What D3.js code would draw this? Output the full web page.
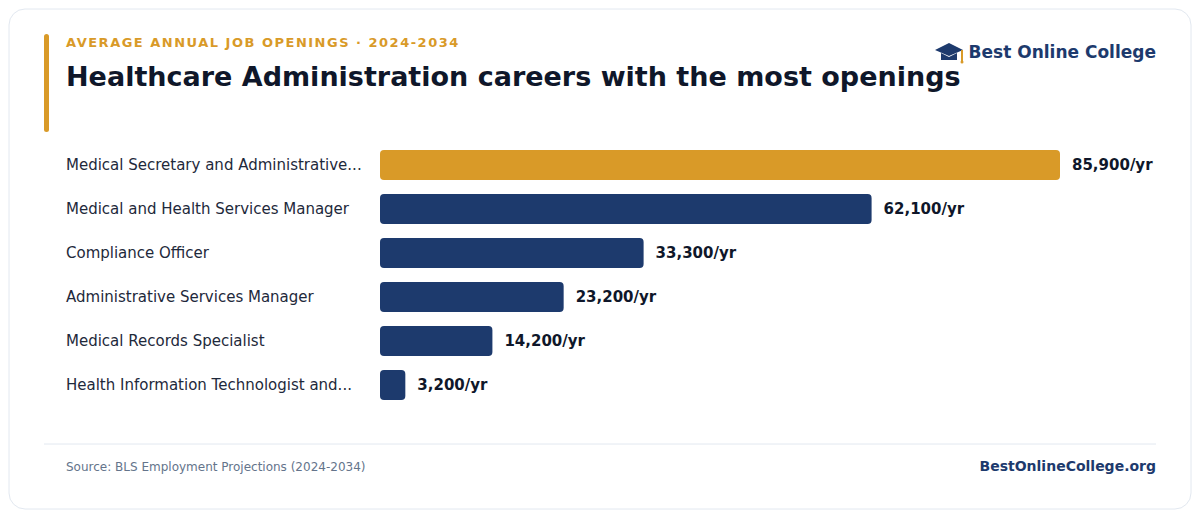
<!DOCTYPE html>
<html lang="en">
<head>
<meta charset="UTF-8">
<title>Healthcare Administration careers</title>
<script src="https://cdn.jsdelivr.net/npm/d3@7"></script>
<style>
  body { margin: 0; background: #ffffff; font-family: "DejaVu Sans", sans-serif; }
</style>
</head>
<body>
<script>

    var width = 1200;
    var height = 518;

    var categories = [
        'Medical Secretary and Administrative...',
        'Medical and Health Services Manager',
        'Compliance Officer',
        'Administrative Services Manager',
        'Medical Records Specialist',
        'Health Information Technologist and...'
    ];
    var openings = [85900, 62100, 33300, 23200, 14200, 3200];
    var valueLabels = ['85,900/yr', '62,100/yr', '33,300/yr', '23,200/yr', '14,200/yr', '3,200/yr'];

    var gold = '#d99a28';
    var navy = '#1d3a6d';

    var svg = d3.select('body')
        .append('svg')
        .attr('width', width)
        .attr('height', height)
        .style('display', 'block');

    // card
    svg.append('rect')
        .attr('x', 9).attr('y', 9)
        .attr('width', 1182).attr('height', 500)
        .attr('rx', 16)
        .attr('fill', '#ffffff')
        .attr('stroke', '#e2e8f0');

    // accent
    svg.append('rect')
        .attr('x', 44).attr('y', 34)
        .attr('width', 5).attr('height', 98)
        .attr('rx', 2.5)
        .attr('fill', gold);

    svg.append('text')
        .attr('x', 66).attr('y', 47)
        .attr('font-size', 13).attr('font-weight', 'bold')
        .attr('letter-spacing', 1.5)
        .attr('fill', gold)
        .text('AVERAGE ANNUAL JOB OPENINGS · 2024-2034');

    svg.append('text')
        .attr('x', 66).attr('y', 86)
        .attr('font-size', 27).attr('font-weight', 'bold')
        .attr('fill', '#0f172a')
        .text('Healthcare Administration careers with the most openings');

    // logo
    var logo = svg.append('g').attr('transform', 'translate(935,43)');
    logo.append('path')
        .attr('d', 'M0,7 L14,0 L28,7 L14,13 Z')
        .attr('fill', navy);
    logo.append('path')
        .attr('d', 'M6,10 L6,17 L22,17 L22,10 L14,14 Z')
        .attr('fill', navy);
    logo.append('line')
        .attr('x1', 27).attr('y1', 7).attr('x2', 27).attr('y2', 19)
        .attr('stroke', gold).attr('stroke-width', 2);
    logo.append('circle')
        .attr('cx', 27).attr('cy', 19).attr('r', 1.5)
        .attr('fill', gold);

    svg.append('text')
        .attr('x', 1156).attr('y', 58)
        .attr('text-anchor', 'end')
        .attr('font-size', 17).attr('font-weight', 'bold')
        .attr('fill', navy)
        .text('Best Online College');

    // bars
    var x = d3.scaleLinear()
        .domain([0, d3.max(openings)])
        .range([380, 1060]);

    var y = d3.scaleBand()
        .domain(categories)
        .range([143, 407])
        .paddingInner(14 / 44)
        .paddingOuter(7 / 44);

    var rows = svg.selectAll('g.row')
        .data(categories)
        .enter()
        .append('g')
        .attr('class', 'row');

    rows.append('text')
        .attr('x', 66)
        .attr('y', function (d) { return y(d) + y.bandwidth() / 2; })
        .attr('dy', '0.35em')
        .attr('font-size', 15)
        .attr('fill', '#1e293b')
        .text(function (d) { return d; });

    rows.append('rect')
        .attr('x', x(0))
        .attr('y', function (d) { return y(d); })
        .attr('width', function (d, i) { return x(openings[i]) - x(0); })
        .attr('height', y.bandwidth())
        .attr('rx', 4)
        .attr('fill', function (d, i) { return i === 0 ? gold : navy; });

    rows.append('text')
        .attr('x', function (d, i) { return x(openings[i]) + 12; })
        .attr('y', function (d) { return y(d) + y.bandwidth() / 2; })
        .attr('dy', '0.35em')
        .attr('font-size', 15).attr('font-weight', 'bold')
        .attr('fill', '#0f172a')
        .text(function (d, i) { return valueLabels[i]; });

    // footer
    svg.append('line')
        .attr('x1', 44).attr('x2', 1156)
        .attr('y1', 444).attr('y2', 444)
        .attr('stroke', '#e2e8f0');

    svg.append('text')
        .attr('x', 66).attr('y', 471)
        .attr('font-size', 12)
        .attr('fill', '#64748b')
        .text('Source: BLS Employment Projections (2024-2034)');

    svg.append('text')
        .attr('x', 1156).attr('y', 471)
        .attr('text-anchor', 'end')
        .attr('font-size', 14).attr('font-weight', 'bold')
        .attr('fill', navy)
        .text('BestOnlineCollege.org');

</script>
</body>
</html>
